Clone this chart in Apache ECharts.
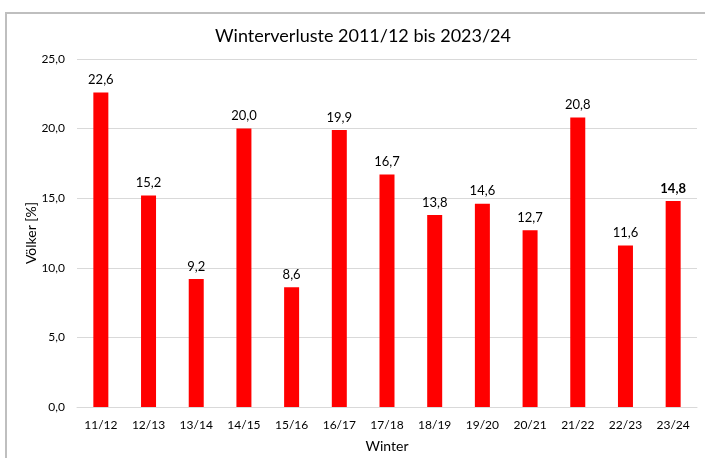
<!DOCTYPE html>
<html><head><meta charset="utf-8">
<script src="https://cdn.jsdelivr.net/npm/echarts@6/dist/echarts.min.js"></script>
<style>html,body{margin:0;padding:0;background:#fff}#c{width:705px;height:458px}</style>
</head><body><div id="c"></div>
<script>
var categories = ['11/12','12/13','13/14','14/15','15/16','16/17','17/18','18/19','19/20','20/21','21/22','22/23','23/24'];
var values = [22.6,15.2,9.2,20.0,8.6,19.9,16.7,13.8,14.6,12.7,20.8,11.6,14.8];
var yTicks = [0,5,10,15,20,25];
var yName = 'Völker [%]';
var fmt = function(v){ return v.toFixed(1).replace('.', ','); };
var font = 'Lato, "Open Sans", sans-serif';
var chart = echarts.init(document.getElementById('c'));
chart.setOption({
  animation:false,
  textStyle:{fontFamily:font},
  graphic:[
    {type:'rect',shape:{x:6,y:13,width:720,height:470},style:{fill:'none',stroke:'#bfbfbf',lineWidth:2},silent:true},
    {type:'text',x:31,y:233,rotation:Math.PI/2,style:{text:yName,fill:'#000',font:'14px Lato, "Open Sans", sans-serif',textAlign:'center',textVerticalAlign:'middle'},silent:true}
  ],
  title:{text:'Winterverluste 2011/12 bis 2023/24',left:358,textAlign:'center',top:22,textStyle:{fontFamily:font,fontSize:18,fontWeight:'normal',color:'#000'}},
  grid:{left:77,right:8,top:59,bottom:51,containLabel:false},
  xAxis:{type:'category',data:categories,name:'Winter',nameLocation:'middle',nameGap:32,
    nameTextStyle:{fontFamily:font,fontSize:14,color:'#000'},
    axisLine:{lineStyle:{color:'#d9d9d9'}},axisTick:{show:false},
    axisLabel:{fontFamily:font,fontSize:12,color:'#000',margin:12}},
  yAxis:{type:'value',min:yTicks[0],max:yTicks[yTicks.length-1],interval:5,
    axisLine:{show:false},axisTick:{show:false},
    splitLine:{lineStyle:{color:'#d9d9d9'}},
    axisLabel:{fontFamily:font,fontSize:12,color:'#000',margin:12,formatter:function(v){return fmt(v);}}},
  series:[{type:'bar',barWidth:15,
    data:values.map(function(v,i){
      var d={value:v,itemStyle:{color:'#ff0000'}};
      if(i===values.length-1){d.label={fontWeight:'bold'};}
      return d;}),
    label:{show:true,position:'top',distance:6,fontFamily:font,fontSize:13,color:'#000',formatter:function(p){return fmt(p.value);}}}]
});
</script></body></html>
